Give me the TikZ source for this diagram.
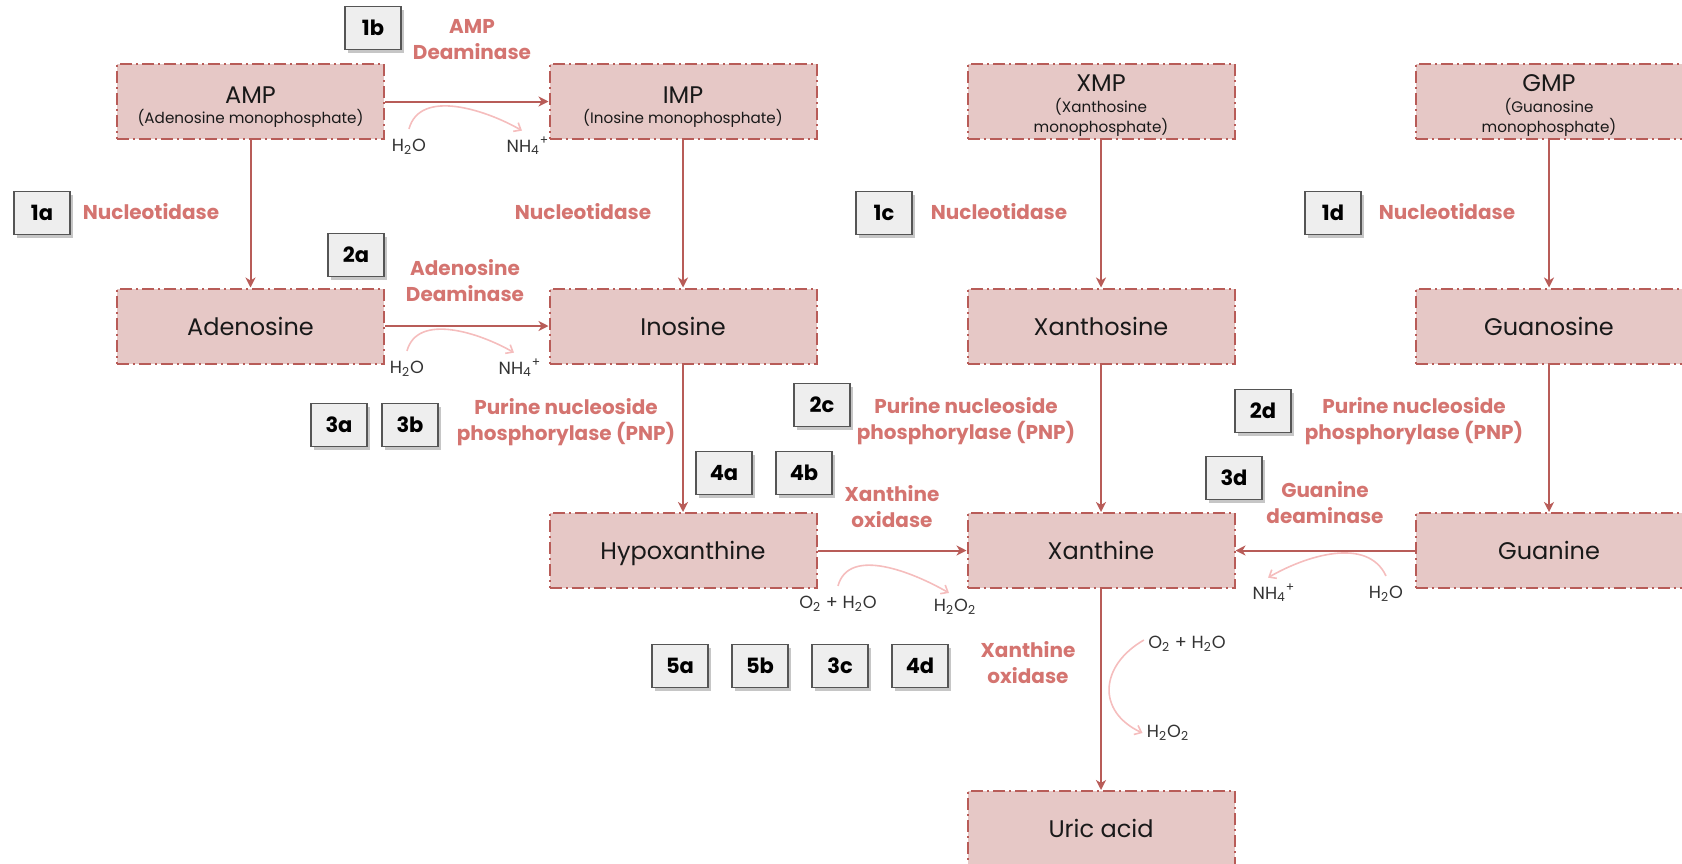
\documentclass[tikz,border=0pt]{standalone}
\usepackage{fontspec}
\setmainfont{Poppins}
\usetikzlibrary{arrows.meta,shadows,calc}
\definecolor{boxfill}{HTML}{E6C8C6}
\definecolor{boxline}{HTML}{B85C58}
\definecolor{enzyme}{HTML}{D47470}
\definecolor{pale}{HTML}{F5BDBD}
\definecolor{stepfill}{HTML}{EEEEEE}
\definecolor{stepline}{HTML}{555555}
\definecolor{chemtext}{HTML}{333333}
\newcommand{\wat}{H\textsubscript{2}O}
\newcommand{\amm}{NH\textsubscript{4}\textsuperscript{+}}
\newcommand{\oxw}{O\textsubscript{2} + H\textsubscript{2}O}
\newcommand{\perox}{H\textsubscript{2}O\textsubscript{2}}
\newcommand{\subtxt}{\fontsize{7.6}{9}\selectfont}

\begin{document}
\begin{tikzpicture}[x=0.5pt,y=-0.5pt]
	\tikzstyle{compound} = [draw=boxline, fill=boxfill, line width=1pt, dash pattern=on 6pt off 2pt on 1pt off 2pt, minimum width=133.5pt, minimum height=37.5pt, inner sep=0pt, align=center, text=black!90, font=\fontsize{12}{14}\selectfont]
	\tikzstyle{onerow} = [text height=12pt, text depth=3pt]
	\tikzstyle{stepbox} = [draw=stepline, fill=stepfill, line width=0.8pt, minimum width=28pt, minimum height=21.5pt, inner sep=0pt, font=\fontsize{10.5}{12}\selectfont\bfseries, drop shadow={shadow xshift=1.5pt, shadow yshift=-1.5pt, opacity=0.45}]
	\tikzstyle{enzyme} = [text=enzyme, align=center, inner sep=0pt, font=\fontsize{10}{13}\selectfont\bfseries]
	\tikzstyle{chem} = [inner sep=2pt, text=chemtext, font=\fontsize{8.8}{10}\selectfont]
	\tikzstyle{main} = [draw=boxline, line width=1pt, -{Stealth[length=5pt, width=5pt, inset=1.5pt]}]
	\tikzstyle{side} = [draw=pale, line width=0.8pt, -{Straight Barb[length=3pt, width=5pt]}]
	\useasboundingbox (0,0) rectangle (1682,863);

	\node [compound](amp) at (250.5, 101.5) {\rule{0pt}{13.5pt}AMP\\[-4pt]{\subtxt(Adenosine monophosphate)}};
	\node [compound](imp) at ($(amp) + (432.5, 0)$) {\rule{0pt}{13.5pt}IMP\\[-4pt]{\subtxt(Inosine monophosphate)}};
	\node [compound](xmp) at ($(imp) + (418, 0)$) {\rule{0pt}{12.7pt}XMP\\[-3.5pt]{\subtxt(Xanthosine}\\[-4pt]{\subtxt monophosphate)}};
	\node [compound](gmp) at ($(xmp) + (448, 0)$) {\rule{0pt}{12.7pt}GMP\\[-3.5pt]{\subtxt(Guanosine}\\[-4pt]{\subtxt monophosphate)}};
	\node [compound, onerow](aden) at ($(amp) + (0, 224.5)$) {Adenosine};
	\node [compound, onerow](ino) at ($(imp) + (0, 224.5)$) {Inosine};
	\node [compound, onerow](xao) at ($(xmp) + (0, 224.5)$) {Xanthosine};
	\node [compound, onerow](guo) at ($(gmp) + (0, 224.5)$) {Guanosine};
	\node [compound, onerow](hypo) at ($(ino) + (0, 224.5)$) {Hypoxanthine};
	\node [compound, onerow](xan) at ($(xao) + (0, 224.5)$) {Xanthine};
	\node [compound, onerow](gua) at ($(guo) + (0, 224.5)$) {Guanine};
	\node [compound, onerow](uric) at ($(xan) + (0, 278)$) {Uric acid};

	%%Step labels
	\node [stepbox](s1a) at (42, 213) {1a};
	\node [stepbox](s1b) at (373, 28) {1b};
	\node [stepbox](s1c) at (884, 213) {1c};
	\node [stepbox](s1d) at (1333, 213) {1d};
	\node [stepbox](s2a) at (356, 255) {2a};
	\node [stepbox](s2c) at (822, 405) {2c};
	\node [stepbox](s2d) at (1263, 411) {2d};
	\node [stepbox](s3a) at (339, 425) {3a};
	\node [stepbox](s3b) at (410, 425) {3b};
	\node [stepbox](s3d) at (1234, 478) {3d};
	\node [stepbox](s4a) at (724, 473) {4a};
	\node [stepbox](s4b) at (804, 473) {4b};
	\node [stepbox](s5a) at (680, 666) {5a};
	\node [stepbox](s5b) at (760, 666) {5b};
	\node [stepbox](s3c) at (840, 666) {3c};
	\node [stepbox](s4d) at (920, 666) {4d};

	%%Enzyme labels
	\node [enzyme](e1b) at (472, 40) {AMP\\Deaminase};
	\node [enzyme](e1a) at (151, 212) {Nucleotidase};
	\node [enzyme](eimp) at (583, 212) {Nucleotidase};
	\node [enzyme](e1c) at (999, 212) {Nucleotidase};
	\node [enzyme](e1d) at (1447, 212) {Nucleotidase};
	\node [enzyme](e2a) at (465, 281) {Adenosine\\Deaminase};
	\node [enzyme](e3a) at (566, 422) {Purine nucleoside\\phosphorylase (PNP)};
	\node [enzyme](e2c) at (966, 421) {Purine nucleoside\\phosphorylase (PNP)};
	\node [enzyme](e2d) at (1414, 421) {Purine nucleoside\\phosphorylase (PNP)};
	\node [enzyme](e4b) at (892, 507) {Xanthine\\oxidase};
	\node [enzyme](e3d) at (1325, 503) {Guanine\\deaminase};
	\node [enzyme](e5a) at (1028, 663) {Xanthine\\oxidase};

	%%Side products
	\node [chem](w1) at (409, 147) {\wat};
	\node [chem](n1) at (528, 146) {\amm};
	\node [chem](w2) at (407, 369) {\wat};
	\node [chem](n2) at (520, 368) {\amm};
	\node [chem](o3) at (838, 604) {\oxw};
	\node [chem](p3) at (955, 607) {\perox};
	\node [chem](n4) at (1274, 593) {\amm};
	\node [chem](w4) at (1386, 594) {\wat};
	\node [chem](o5) at (1187, 644) {\oxw};
	\node [chem](p5) at (1168, 733) {\perox};

	\draw[main] (amp)--(imp);
	\draw[main] (aden)--(ino);
	\draw[main] (hypo)--(xan);
	\draw[main] (gua)--(xan);
	\draw[main] (amp)--(aden);
	\draw[main] (imp)--(ino);
	\draw[main] (ino)--(hypo);
	\draw[main] (xmp)--(xao);
	\draw[main] (xao)--(xan);
	\draw[main] (gmp)--(guo);
	\draw[main] (guo)--(gua);
	\draw[main] (xan)--(uric);

	\draw[side] ([yshift=3pt]w1.north) to[out=75, in=150, looseness=0.95] ([xshift=-3pt, yshift=1pt]n1.north);
	\draw[side] ([yshift=3pt]w2.north) to[out=75, in=150, looseness=0.95] ([xshift=-3pt, yshift=1pt]n2.north);
	\draw[side] ([yshift=3pt]o3.north) to[out=75, in=150, looseness=0.95] ([xshift=-3pt, yshift=1pt]p3.north);
	\draw[side] ([yshift=3pt]w4.north) to[out=115, in=30, looseness=0.95] ([xshift=-3pt, yshift=1pt]n4.north);
	\draw[side] ([yshift=2pt]o5.west) to[out=210, in=155, looseness=1.4] (p5.west);
\end{tikzpicture}
\end{document}
